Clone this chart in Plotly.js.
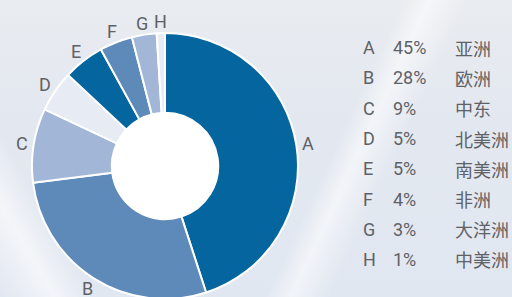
<!DOCTYPE html>
<html>
<head>
<meta charset="utf-8">
<script src="https://cdn.plot.ly/plotly-3.0.1.min.js"></script>
<style>
html,body{margin:0;padding:0;width:512px;height:297px;overflow:hidden;}
body{background:
 linear-gradient(115deg, rgba(255,255,255,0) 0%, rgba(255,255,255,0) 62%, rgba(255,255,255,0.55) 66%, rgba(255,255,255,0) 72%),
 linear-gradient(60deg, rgba(255,255,255,0) 0%, rgba(255,255,255,0.6) 8%, rgba(255,255,255,0) 14%),
 linear-gradient(180deg, #e9ecf0 0%, #e3e8f0 40%, #e1e7f1 100%);}
#chart{width:512px;height:340px;}
</style>
</head>
<body>
<div id="chart"></div>
<script>
var labels = ['A','B','C','D','E','F','G','H'];
var values = [45, 28, 9, 5, 5, 4, 3, 1];
var regions = ['亚洲','欧洲','中东','北美洲','南美洲','非洲','大洋洲','中美洲'];
var colors = ['#04659f','#5e8aba','#a2b7d7','#e6ebf4','#04659f','#5e8aba','#a2b7d7','#e6ebf4'];

var W = 512, H = 340;
var cx = 165, cy = 166, r = 133, holeFrac = 0.4;
var font = 'Roboto, "Noto Sans CJK SC", sans-serif';
var txtColor = '#5e6266';

var trace = {
  type: 'pie',
  labels: labels,
  values: values,
  sort: false,
  direction: 'clockwise',
  rotation: 0,
  hole: holeFrac,
  textinfo: 'none',
  marker: {colors: colors, line: {color: '#ffffff', width: 2}},
  domain: {x: [(cx - r) / W, (cx + r) / W], y: [1 - (cy + r) / H, 1 - (cy - r) / H]},
  showlegend: false,
  hoverinfo: 'none'
};

var annotations = [];
// slice labels placed radially outside at each slice's mid-angle
var total = values.reduce(function(a, b){ return a + b; }, 0);
var cum = 0, labelDist = r + 12;
for (var k = 0; k < values.length; k++) {
  var mid = (cum + values[k] / 2) / total * 2 * Math.PI;
  cum += values[k];
  var px = cx + Math.sin(mid) * labelDist;
  var py = cy - Math.cos(mid) * labelDist;
  annotations.push({xref:'paper', yref:'paper', x: px / W, y: 1 - py / H, xanchor:'center', yanchor:'middle',
    height: 14, borderpad: 0,
    text: labels[k], showarrow:false, font:{family:font, size:18, color:txtColor}});
}

var rowY = [48, 78, 108.5, 138.5, 168.5, 199, 229, 259];
for (var i = 0; i < labels.length; i++) {
  var yy = 1 - rowY[i] / H;
  annotations.push({xref:'paper', yref:'paper', x: 361 / W, y: yy, xanchor:'left', yanchor:'middle', text: labels[i], showarrow:false, font:{family:font, size:18, color:txtColor}});
  annotations.push({xref:'paper', yref:'paper', x: 391 / W, y: yy, xanchor:'left', yanchor:'middle', text: values[i] + '%', showarrow:false, font:{family:font, size:18, color:txtColor}});
  annotations.push({xref:'paper', yref:'paper', x: 453 / W, y: yy, xanchor:'left', yanchor:'middle', text: regions[i], showarrow:false, font:{family:'"Noto Sans CJK SC", sans-serif', size:18, color:txtColor}});
}

var hr = r * holeFrac + 1;
var layout = {
  width: W, height: H,
  margin: {l:0, r:0, t:0, b:0},
  paper_bgcolor: 'rgba(0,0,0,0)',
  plot_bgcolor: 'rgba(0,0,0,0)',
  annotations: annotations,
  shapes: [{type:'circle', xref:'paper', yref:'paper', layer:'below',
    x0:(cx - hr) / W, x1:(cx + hr) / W, y0:1 - (cy + hr) / H, y1:1 - (cy - hr) / H,
    fillcolor:'#ffffff', line:{width:0}}],
  showlegend: false
};

Plotly.newPlot('chart', [trace], layout, {staticPlot: true});
</script>
</body>
</html>
